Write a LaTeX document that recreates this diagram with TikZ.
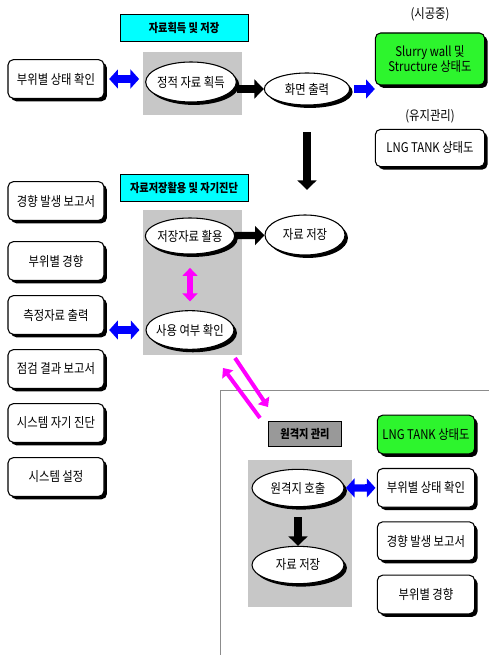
\documentclass[tikz,border=0pt]{standalone}
\usepackage{fontspec}
\setmainfont{Noto Sans CJK KR}[FakeStretch=0.85]
\usetikzlibrary{arrows.meta,shapes.geometric,shadows,positioning}
\definecolor{boxgreen}{RGB}{45,245,45}
\definecolor{headcyan}{RGB}{0,255,255}
\definecolor{linkpink}{RGB}{255,0,255}
\definecolor{linkblue}{RGB}{0,0,255}

\begin{document}
\begin{tikzpicture}[x=0.75pt,y=-0.75pt,node distance=40.5pt,font=\fontsize{10}{11.5}\selectfont]
  \tikzstyle{dark shadow}=[drop shadow={shadow xshift=2.2pt,shadow yshift=-2.2pt,fill=black,opacity=1}]
  \tikzstyle{box}=[rectangle,rounded corners=4pt,draw,thick,fill=white,inner xsep=1pt,
                   minimum width=72pt,minimum height=29pt,align=center,dark shadow]
  \tikzstyle{green box}=[box,fill=boxgreen]
  \tikzstyle{oval}=[ellipse,draw,thick,fill=white,inner xsep=-8pt,inner ysep=0pt,
                    minimum width=68pt,minimum height=30pt,dark shadow]
  \tikzstyle{heading}=[rectangle,draw,fill=headcyan,minimum width=96pt,minimum height=20pt,
                       font=\fontsize{9}{11}\selectfont\bfseries]
  \tikzstyle{gray area}=[fill=black!22]
  \tikzstyle{blue link}=[draw=linkblue,line width=5.5pt,
                         {Triangle[length=6.5pt,width=14pt]}-{Triangle[length=6.5pt,width=14pt]}]
  \tikzstyle{blue step}=[draw=linkblue,line width=5.5pt,-{Triangle[length=6.5pt,width=14pt]}]
  \tikzstyle{black step}=[draw=black,line width=5.5pt,-{Triangle[length=7pt,width=14pt]}]
  \tikzstyle{pink link}=[draw=linkpink,line width=4pt,
                         {Triangle[length=6pt,width=11pt]}-{Triangle[length=6pt,width=11pt]}]
  \tikzstyle{pink step}=[draw=linkpink,line width=3pt,-{Triangle[length=6pt,width=10pt]}]

  \useasboundingbox (0,0) rectangle (489,655);
  \fill[gray area] (143,52) rectangle (242,115);
  \fill[gray area] (143,210) rectangle (242,355);
  \fill[gray area] (248,460) rectangle (352,607);
  \draw[black!45,thin] (220,655) -- (220,390) -- (489,390);

  % data acquisition
  \node [heading] (title1) at (184,28) {자료획득 및 저장};
  \node [box] (check1) at (56,79) {부위별 상태 확인};
  \node [oval] (acquire) at (191,82) {정적 자료 획득};
  \node [oval,minimum width=64pt,minimum height=24pt] (display) at (307,89) {화면 출력};
  \node [green box,minimum width=82pt,minimum height=39pt,
         label={[label distance=5pt]above:(시공중)}] (slurry) at (430,59)
        {Slurry wall 및\\Structure 상태도};
  \node [box,minimum width=82pt,minimum height=28pt,
         label={[label distance=1pt]above:(유지관리)}] (lngtop) at (430,148) {LNG TANK 상태도};

  % stored data and self diagnosis
  \node [heading] (title2) at (184,188) {자료저장활용 및 자기진단};
  \node [oval,minimum width=67pt,minimum height=27pt] (reuse) at (190,236) {저장자료 활용};
  \node [oval,minimum width=60pt,minimum height=30pt] (store) at (305,235) {자료 저장};
  \node [oval,minimum width=66pt,minimum height=29pt] (confirm) at (190,330) {사용 여부 확인};
  \node [box] (trend) at (56,201) {경향 발생 보고서};
  \node [box] (parttrend) at (56,261) {부위별 경향};
  \node [box] (measure) [below of=parttrend] {측정자료 출력};
  \node [box] (inspect) [below of=measure] {점검 결과 보고서};
  \node [box] (diagnose) [below of=inspect] {시스템 자기 진단};
  \node [box] (setup) [below of=diagnose] {시스템 설정};

  % remote site
  \begin{scope}[node distance=40pt]
    \node [heading,fill=black!40,minimum width=55pt,minimum height=19pt] (remote) at (305,434) {원격지 관리};
    \node [oval,minimum width=69pt,minimum height=28pt] (call) at (298,488) {원격지 호출};
    \node [oval,minimum width=69pt,minimum height=28pt] (store2) at (298,565) {자료 저장};
    \node [green box,minimum width=73pt] (lngtank) at (426,434.5) {LNG TANK 상태도};
    \node [box,minimum width=73pt] (rcheck) [below of=lngtank] {부위별 상태 확인};
    \node [box,minimum width=73pt] (rtrend) [below of=rcheck] {경향 발생 보고서};
    \node [box,minimum width=73pt] (rparttrend) [below of=rtrend] {부위별 경향};
  \end{scope}

  \coordinate (down1) at (235,358);
  \coordinate (down2) at (268,407);
  \coordinate (up1) at (260,418);
  \coordinate (up2) at (223,368);

  \draw [blue link,shorten <=3.5pt,shorten >=4.5pt] (check1) -- (check1 -| acquire.west);
  \draw [black step] (acquire.east |- display) -- (display);
  \draw [blue step,shorten <=3pt] (display) -- (display -| slurry.west);
  \draw [black step,shorten <=20pt,shorten >=18.5pt] (display) -- (display |- store.north);
  \draw [black step] (reuse) -- (store);
  \draw [pink link,shorten <=10pt,shorten >=6.5pt] (reuse) -- (confirm);
  \draw [blue link,shorten <=3.5pt,shorten >=4.5pt] (confirm -| measure.east) -- (confirm);
  \draw [pink step] (down1) -- (down2);
  \draw [pink step] (up1) -- (up2);
  \draw [blue link,shorten <=1pt,shorten >=1pt] (call) -- (rcheck);
  \draw [black step,shorten <=7.5pt] (call) -- (store2);
\end{tikzpicture}
\end{document}
